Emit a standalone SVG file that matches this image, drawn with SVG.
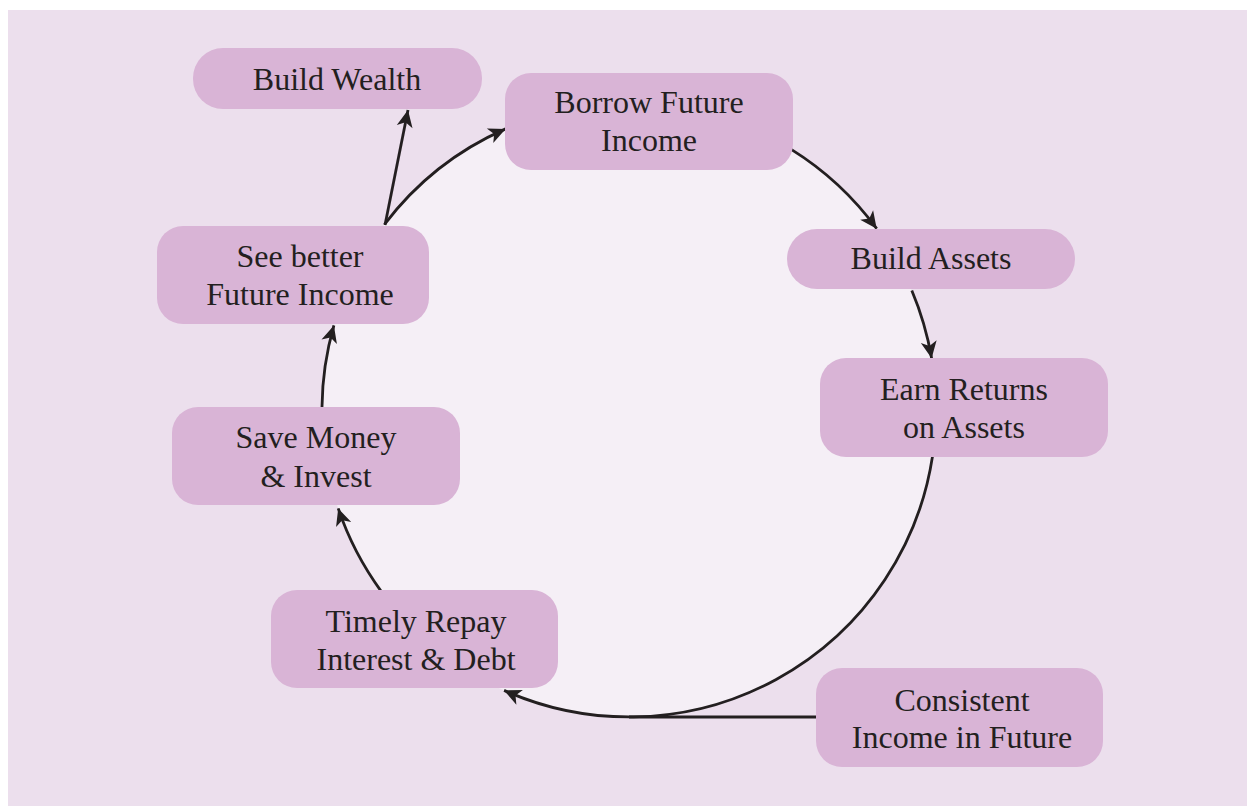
<svg xmlns="http://www.w3.org/2000/svg" width="1247" height="806" viewBox="0 0 1247 806">
  <defs>
    <marker id="ah" markerUnits="userSpaceOnUse" markerWidth="20" markerHeight="20" viewBox="0 0 20 20" refX="18" refY="10" orient="auto">
      <path d="M1,2 L18,10 L1,18 L5.5,10 z" fill="#231f20"/>
    </marker>
    <style>
      .node { fill: #d9b4d6; }
      .lbl { font-family: "Liberation Serif", "Times New Roman", serif; font-size: 32px; fill: #231f20; text-anchor: middle; }
      .conn { fill: none; stroke: #231f20; stroke-width: 2.8; }
    </style>
  </defs>
  <rect x="0" y="0" width="1247" height="806" fill="#ffffff"/>
  <rect x="8" y="10" width="1239" height="796" fill="#ecdfed"/>
  <circle cx="629" cy="410" r="307" fill="#f5eff6"/>

  <g id="connectors">
    <path class="conn" d="M384.5,224.4 A307,307 0 0 1 505.6,128.9" marker-end="url(#ah)"/>
    <path class="conn" d="M385,225 L408,110" marker-end="url(#ah)"/>
    <path class="conn" d="M791.2,149.4 A307,307 0 0 1 876.7,228.7" marker-end="url(#ah)"/>
    <path class="conn" d="M911.8,290.5 A307,307 0 0 1 931.6,358.3" marker-end="url(#ah)"/>
    <path class="conn" d="M932.5,456.4 A307,307 0 0 1 504.1,690.4" marker-end="url(#ah)"/>
    <path class="conn" d="M629,717 L816,717"/>
    <path class="conn" d="M381.2,591.3 A307,307 0 0 1 338.2,508.4" marker-end="url(#ah)"/>
    <path class="conn" d="M322,407 A307,307 0 0 1 333.9,325.4" marker-end="url(#ah)"/>
  </g>

  <g id="node-build-wealth">
    <rect class="node" x="193" y="48" width="289" height="61" rx="30"/>
    <text class="lbl" x="337" y="90">Build Wealth</text>
  </g>
  <g id="node-borrow">
    <rect class="node" x="505" y="73" width="288" height="97" rx="26"/>
    <text class="lbl" x="649" y="113">Borrow Future</text>
    <text class="lbl" x="649" y="151">Income</text>
  </g>
  <g id="node-build-assets">
    <rect class="node" x="787" y="229" width="288" height="60" rx="30"/>
    <text class="lbl" x="931" y="269">Build Assets</text>
  </g>
  <g id="node-earn-returns">
    <rect class="node" x="820" y="358" width="288" height="99" rx="26"/>
    <text class="lbl" x="964" y="400">Earn Returns</text>
    <text class="lbl" x="964" y="438">on Assets</text>
  </g>
  <g id="node-consistent-income">
    <rect class="node" x="816" y="668" width="287" height="99" rx="26"/>
    <text class="lbl" x="962" y="711">Consistent</text>
    <text class="lbl" x="962" y="748">Income in Future</text>
  </g>
  <g id="node-timely-repay">
    <rect class="node" x="271" y="590" width="287" height="98" rx="26"/>
    <text class="lbl" x="416" y="632">Timely Repay</text>
    <text class="lbl" x="416" y="670">Interest &amp; Debt</text>
  </g>
  <g id="node-save-money">
    <rect class="node" x="172" y="407" width="288" height="98" rx="26"/>
    <text class="lbl" x="316" y="448">Save Money</text>
    <text class="lbl" x="316" y="487">&amp; Invest</text>
  </g>
  <g id="node-see-better">
    <rect class="node" x="157" y="226" width="272" height="98" rx="26"/>
    <text class="lbl" x="300" y="267">See better</text>
    <text class="lbl" x="300" y="305">Future Income</text>
  </g>
</svg>
